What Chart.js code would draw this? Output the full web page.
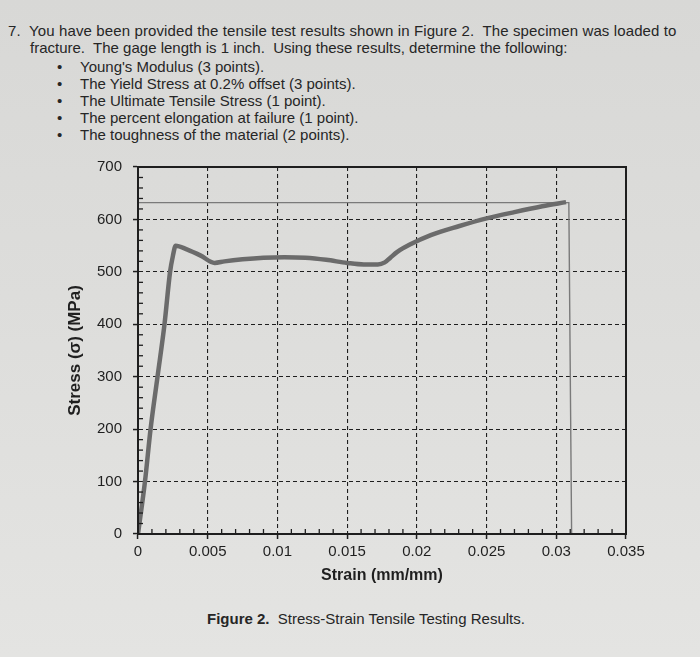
<!DOCTYPE html>
<html>
<head>
<meta charset="utf-8">
<script src="https://cdn.jsdelivr.net/npm/chart.js@4.4.1/dist/chart.umd.min.js"></script>
<style>
  html, body { margin: 0; padding: 0; }
  body {
    width: 700px; height: 657px; position: relative; overflow: hidden;
    background: linear-gradient(180deg, #d8d8d6 0%, #dddddb 45%, #e4e4e2 100%);
    font-family: "Liberation Sans", Arial, sans-serif; color: #262626;
  }
  .t { position: absolute; font-size: 15px; white-space: nowrap; line-height: 17px; }
  .b { position: absolute; font-size: 15px; line-height: 17px; }
  #wrap { position: absolute; left: 40px; top: 140px; width: 620px; height: 460px; }
  #cap { position: absolute; left: 207px; top: 610px; font-size: 15px; white-space: nowrap; }
</style>
</head>
<body>
<div class="t" style="left:8px;top:22px;letter-spacing:0.12px">7.&nbsp; You have been provided the tensile test results shown in Figure 2.&nbsp; The specimen was loaded to</div>
<div class="t" style="left:30px;top:39px">fracture.&nbsp; The gage length is 1 inch.&nbsp; Using these results, determine the following:</div>
<div class="b" style="left:57px;top:58px">•</div><div class="t" style="left:80px;top:58px">Young's Modulus (3 points).</div>
<div class="b" style="left:57px;top:75px">•</div><div class="t" style="left:80px;top:75px">The Yield Stress at 0.2% offset (3 points).</div>
<div class="b" style="left:57px;top:92px">•</div><div class="t" style="left:80px;top:92px">The Ultimate Tensile Stress (1 point).</div>
<div class="b" style="left:57px;top:109px">•</div><div class="t" style="left:80px;top:109px">The percent elongation at failure (1 point).</div>
<div class="b" style="left:57px;top:126px">•</div><div class="t" style="left:80px;top:126px">The toughness of the material (2 points).</div>

<div id="wrap"><canvas id="ssChart"></canvas></div>
<div id="cap"><b>Figure 2.</b>&nbsp; Stress-Strain Tensile Testing Results.</div>

<script>
// test curve
const strain = [0, 0.0005, 0.0009, 0.0014, 0.0019, 0.0023, 0.0025, 0.0027, 0.0035, 0.0045,
                0.0055, 0.0062, 0.0075, 0.0090, 0.0105, 0.0120, 0.0135, 0.0150, 0.0162, 0.0172,
                0.0177, 0.0181, 0.0186, 0.0195, 0.0210, 0.0230, 0.0250, 0.0270, 0.0290, 0.0307];
const stress = [0, 100, 200, 300, 400, 500, 530, 550, 543, 531,
                517, 520, 524, 527, 528, 527, 523, 517, 514, 514,
                518, 527, 538, 552, 570, 587, 602, 614, 625, 633];

// thin line: UTS level and the drop at fracture
const thinStrain = [0, 0.0309, 0.0311];
const thinStress = [632, 632, 0];

const xTicks = [0, 0.005, 0.01, 0.015, 0.02, 0.025, 0.03, 0.035];
const xTickLabels = ['0', '0.005', '0.01', '0.015', '0.02', '0.025', '0.03', '0.035'];
const yTicks = [0, 100, 200, 300, 400, 500, 600, 700];

const pts = (xs, ys) => xs.map((x, i) => ({ x: x, y: ys[i] }));
const ink = '#1e1e1e';

// frame + inward minor ticks
const frame = {
  id: 'frame',
  afterDraw(chart) {
    const { ctx, chartArea: a, scales: { x, y } } = chart;
    ctx.save();
    ctx.strokeStyle = ink;
    ctx.lineWidth = 1.3;
    for (let v = 0; v <= 700; v += 20) {
      if (v % 100 === 0) continue;
      const py = y.getPixelForValue(v);
      ctx.beginPath(); ctx.moveTo(a.left, py); ctx.lineTo(a.left + 5, py); ctx.stroke();
    }
    for (let k = 1; k < 35; k++) {
      if (k % 5 === 0) continue;
      const px = x.getPixelForValue(k / 1000);
      ctx.beginPath(); ctx.moveTo(px, a.bottom); ctx.lineTo(px, a.bottom - 5); ctx.stroke();
    }
    ctx.lineWidth = 2;
    ctx.strokeRect(a.left, a.top, a.right - a.left, a.bottom - a.top);
    ctx.restore();
  }
};

new Chart(document.getElementById('ssChart'), {
  type: 'scatter',
  data: {
    datasets: [{
      data: pts(strain, stress),
      showLine: true,
      borderColor: '#6b6b6b',
      borderWidth: 4.5,
      pointRadius: 0,
      cubicInterpolationMode: 'monotone'
    }, {
      data: pts(thinStrain, thinStress),
      showLine: true,
      borderColor: '#7a7a7a',
      borderWidth: 1.4,
      pointRadius: 0,
      tension: 0
    }]
  },
  options: {
    responsive: true,
    maintainAspectRatio: false,
    animation: false,
    layout: { padding: { top: 27, right: 34, left: 0, bottom: 0 } },
    plugins: { legend: { display: false }, tooltip: { enabled: false } },
    scales: {
      x: {
        type: 'linear', min: 0, max: 0.035,
        afterBuildTicks: s => { s.ticks = xTicks.map(v => ({ value: v })); },
        afterFit: s => { s.height = 66; },
        grid: { color: ink, lineWidth: 1.1, tickLength: 5, tickColor: ink, tickWidth: 1.5, tickBorderDash: [] },
        border: { display: true, color: ink, width: 2, dash: [4, 3] },
        ticks: {
          color: '#1f1f1f', padding: 4, maxRotation: 0, autoSkip: false,
          font: { family: 'Liberation Sans', size: 15 },
          callback: (v, i) => xTickLabels[i]
        },
        title: {
          display: true, text: 'Strain (mm/mm)', color: '#1f1f1f',
          font: { family: 'Liberation Sans', size: 16, weight: 'bold' },
          padding: { top: 0, bottom: 15 }
        }
      },
      y: {
        type: 'linear', min: 0, max: 700,
        afterBuildTicks: s => { s.ticks = yTicks.map(v => ({ value: v })); },
        afterFit: s => { s.width = 98; },
        grid: { color: ink, lineWidth: 1.1, tickLength: 5, tickColor: ink, tickWidth: 1.5, tickBorderDash: [] },
        border: { display: true, color: ink, width: 2, dash: [4, 3] },
        ticks: {
          color: '#1f1f1f', padding: 11,
          font: { family: 'Liberation Sans', size: 15 }
        },
        title: {
          display: true, text: 'Stress (σ) (MPa)', color: '#1f1f1f',
          font: { family: 'Liberation Sans', size: 17, weight: 'bold' },
          padding: { top: 25, bottom: 0 }
        }
      }
    }
  },
  plugins: [frame]
});
</script>
</body>
</html>
